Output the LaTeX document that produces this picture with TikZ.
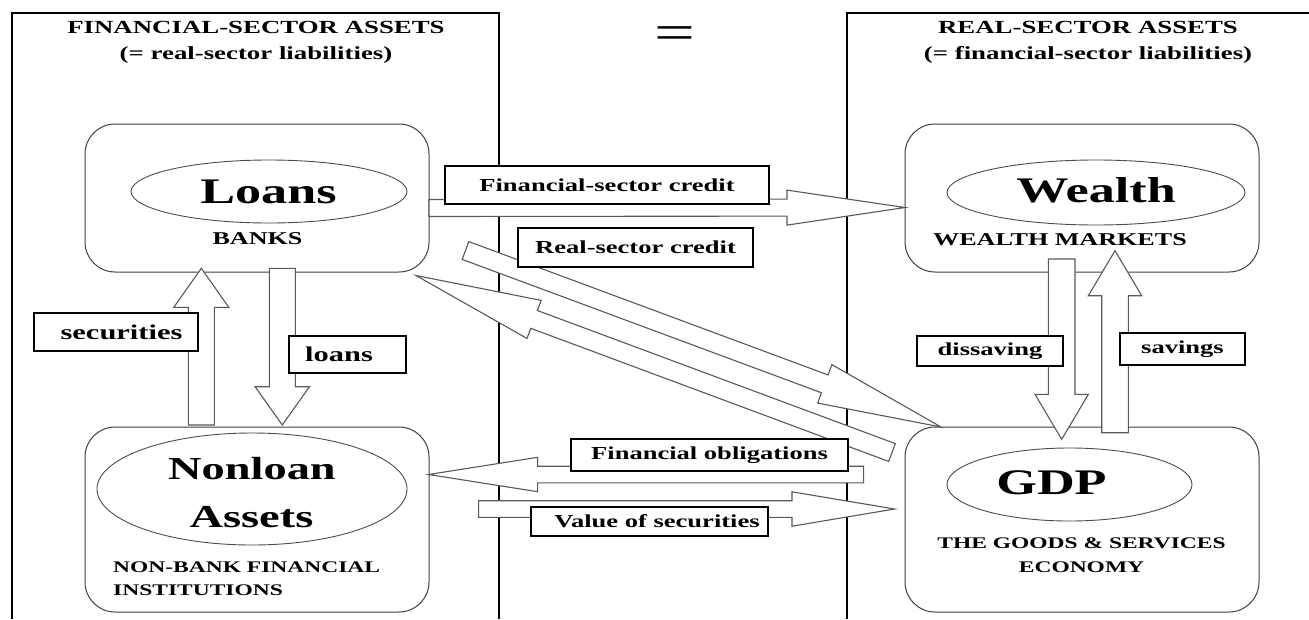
\documentclass[tikz,border=0pt]{standalone}
\usepackage{fontspec}
\setmainfont{Liberation Serif}[FakeStretch=1.45]
\usetikzlibrary{calc,shapes.geometric}
\newcommand{\blockarrow}[5]{%
  \coordinate (ba-b) at ($(#2)!#5!(#1)$);
  \draw[blockarr] ($(#1)!#3!90:(#2)$) -- ($(ba-b)!#3!90:(#2)$) -- ($(ba-b)!#4!90:(#2)$) -- (#2)
    -- ($(ba-b)!#4!-90:(#2)$) -- ($(ba-b)!#3!-90:(#2)$) -- ($(#1)!#3!-90:(#2)$) -- cycle;
}
\tikzset{
  panel/.style={draw=black, line width=1.3pt},
  rbox/.style={draw=black!75, line width=1pt, rounded corners=30pt, fill=white, inner sep=0pt},
  ell/.style={ellipse, draw=black!70, line width=0.9pt, inner sep=0pt},
  blockarr/.style={draw=black!65, line width=1.1pt, fill=white, line join=miter},
  lab/.style={draw=black, line width=1.1pt, fill=white, inner sep=0pt, font=\fontsize{18.3}{20}\selectfont\bfseries},
  head/.style={inner sep=0pt, anchor=base, font=\fontsize{18.5}{20}\selectfont\bfseries},
  big/.style={inner sep=0pt, anchor=base, font=\fontsize{36}{40}\selectfont\bfseries},
  mid/.style={inner sep=0pt, anchor=base, font=\fontsize{32}{36}\selectfont\bfseries},
  sub/.style={inner sep=0pt, anchor=base, font=\fontsize{18}{20}\selectfont\bfseries},
  small/.style={inner sep=0pt, anchor=base, font=\fontsize{16.2}{18}\selectfont\bfseries},
}
\begin{document}
\begin{tikzpicture}[x=1pt,y=-1pt]
\useasboundingbox[fill=white] (0,0) rectangle (1309,619);
% panels
\draw[panel] (12,619) -- (12,13) -- (499,13) -- (499,619);
\draw[panel] (847,619) -- (847,13) -- (1309,13);
\node[head] (h1) at (256,33) {FINANCIAL-SECTOR ASSETS};
\node[head] (h2) at (256,59) {(= real-sector liabilities)};
\node[head] (h3) at (1088,33) {REAL-SECTOR ASSETS};
\node[head] (h4) at (1088,59) {(= financial-sector liabilities)};
\node[inner sep=0pt, font=\fontsize{50}{50}\selectfont] (eq) at (674.5,38) {=};
% boxes
\node[rbox, minimum width=344pt, minimum height=148pt] (banks) at (257,198) {};
\node[rbox, minimum width=354pt, minimum height=148pt] (wealth) at (1082,198) {};
\node[rbox, minimum width=344pt, minimum height=185pt] (nonloan) at (257,519.5) {};
\node[rbox, minimum width=354pt, minimum height=185pt] (gdp) at (1082,519.5) {};
\node[ell, minimum width=276pt, minimum height=63pt] (loansE) at (269,191.5) {};
\node[ell, minimum width=298pt, minimum height=65pt] (wealthE) at (1096,192.5) {};
\node[ell, minimum width=310pt, minimum height=112pt] (nonloanE) at (252,489) {};
\node[ell, minimum width=245pt, minimum height=73pt] (gdpE) at (1069.5,484.5) {};
\node[big] (tLoans) at (268.5,203) {Loans};
\node[sub] (tBanks) at (257.5,244) {BANKS};
\node[big] (tWealth) at (1096,202) {Wealth};
\node[sub] (tWM) at (1060,245) {WEALTH MARKETS};
\node[mid] (tNon) at (252,479) {Nonloan};
\node[mid] (tAss) at (251.5,527) {Assets};
\node[small, anchor=base west] (tNB1) at (113,572) {NON-BANK FINANCIAL};
\node[small, anchor=base west] (tNB2) at (113,595) {INSTITUTIONS};
\node[big] (tGDP) at (1051.5,494) {GDP};
\node[small] (tGS1) at (1081.5,548) {THE GOODS \& SERVICES};
\node[small] (tGS2) at (1081.5,572) {ECONOMY};
% arrow end points
\coordinate (a1s) at (429,208);     \coordinate (a1e) at (905,207.5);
\coordinate (a2s) at (465.5,250.5); \coordinate (a2e) at (941,427);
\coordinate (a3s) at (892,452.5);   \coordinate (a3e) at (416,275.5);
\coordinate (a4s) at (863.6,474.5); \coordinate (a4e) at (428.6,474.5);
\coordinate (a5s) at (478.6,509);   \coordinate (a5e) at (894.6,509);
\coordinate (a6s) at (201.3,425);   \coordinate (a6e) at (201.3,268.3);
\coordinate (a7s) at (282.3,268.3); \coordinate (a7e) at (282.3,425);
\coordinate (a8s) at (1061.7,259);  \coordinate (a8e) at (1061.7,439.3);
\coordinate (a9s) at (1115,432.7);  \coordinate (a9e) at (1115,250.7);
\blockarrow{a1s}{a1e}{8.5pt}{17.5pt}{118pt}
\blockarrow{a2s}{a2e}{9.5pt}{20.5pt}{124pt}
\blockarrow{a3s}{a3e}{9.5pt}{20.3pt}{126pt}
\blockarrow{a4s}{a4e}{8.3pt}{17.2pt}{109pt}
\blockarrow{a5s}{a5e}{8.3pt}{17.2pt}{102.6pt}
\blockarrow{a6s}{a6e}{13pt}{27.5pt}{39pt}
\blockarrow{a7s}{a7e}{13pt}{27.2pt}{38.3pt}
\blockarrow{a8s}{a8e}{13.3pt}{26.7pt}{45pt}
\blockarrow{a9s}{a9e}{13.3pt}{26.7pt}{45pt}
% labels
\node[lab, minimum width=324pt, minimum height=38pt] (lFSC) at (607,185) {Financial-sector credit};
\node[lab, minimum width=235pt, minimum height=39pt] (lRSC) at (635.5,247.5) {Real-sector credit};
\node[lab, minimum width=164pt, minimum height=38pt, font=\fontsize{21}{23}\selectfont\bfseries] (lSec) at (116,332) {\hspace*{11pt}securities};
\node[lab, minimum width=117pt, minimum height=37pt, font=\fontsize{21}{23}\selectfont\bfseries] (lLoans) at (347.5,354.5) {loans\hspace*{17pt}};
\node[lab, minimum width=146pt, minimum height=30pt] (lDis) at (990,351) {dissaving};
\node[lab, minimum width=125pt, minimum height=32pt] (lSav) at (1182.5,349) {savings};
\node[lab, minimum width=277pt, minimum height=32pt] (lFO) at (709.5,455) {Financial obligations};
\node[lab, minimum width=237pt, minimum height=29pt] (lVS) at (649.5,521.5) {\hspace*{15pt}Value of securities};
\end{tikzpicture}
\end{document}
